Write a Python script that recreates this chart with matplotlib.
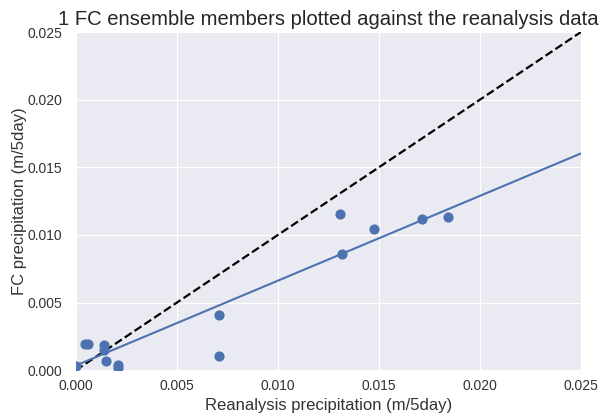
import matplotlib
matplotlib.use('Agg')
import matplotlib.pyplot as plt
import numpy as np

plt.style.use('seaborn-v0_8-darkgrid')
plt.rcParams['font.family'] = ['Liberation Sans', 'DejaVu Sans']

# reanalysis vs forecast precipitation (m/5day)
reanalysis = [0.0, 0.00045, 0.0006, 0.00139, 0.00139, 0.00149, 0.00208, 0.00208,
              0.00708, 0.00708, 0.01307, 0.01317, 0.01475, 0.01713, 0.01842]
forecast = [0.0003, 0.00192, 0.00197, 0.00185, 0.0015, 0.00067, 0.00037, 0.00015,
            0.00407, 0.00104, 0.01154, 0.00858, 0.01043, 0.01117, 0.01132]

# regression line
fit_slope = 0.627
fit_intercept = 0.00035

lim = [0, 0.025]
ticks = [0.0, 0.005, 0.010, 0.015, 0.020, 0.025]

fig, ax = plt.subplots(figsize=(6.02, 4.16), dpi=100)
fig.subplots_adjust(left=0.126, right=0.965, top=0.923, bottom=0.11)

xs = np.array(lim)
ax.plot(xs, xs, 'k--', lw=1.6, zorder=3)
ax.plot(xs, fit_slope * xs + fit_intercept, color='#4C72B0', lw=1.5, zorder=3)
ax.scatter(reanalysis, forecast, color='#4C72B0', s=40, zorder=4, clip_on=True)

ax.set_xlim(lim)
ax.set_ylim(lim)
ax.set_xticks(ticks)
ax.set_yticks(ticks)
ax.set_xticklabels(['%.3f' % t for t in ticks], fontsize=10, color='#333333')
ax.set_yticklabels(['%.3f' % t for t in ticks], fontsize=10, color='#333333')
ax.tick_params(axis='y', pad=10)
ax.tick_params(axis='x', pad=6)
ax.set_xlabel('Reanalysis precipitation (m/5day)', fontsize=12, labelpad=4, color='#333333')
ax.set_ylabel('FC precipitation (m/5day)', fontsize=12, labelpad=0, color='#333333')
ax.set_title('1 FC ensemble members plotted against the reanalysis data', fontsize=14.6, pad=5)

fig.savefig('out.png', dpi=100)
